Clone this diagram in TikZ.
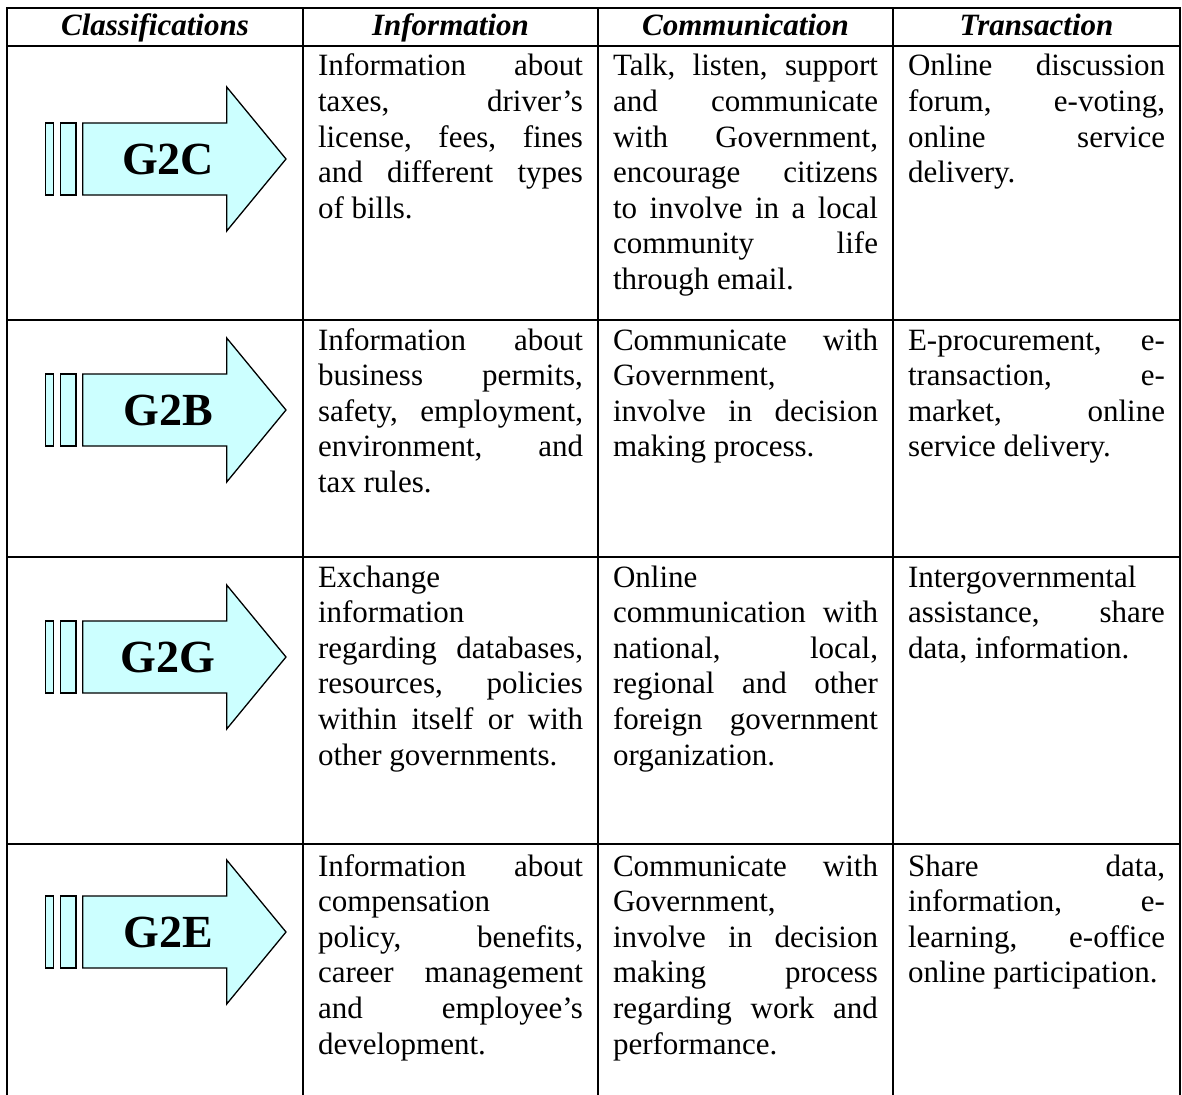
\documentclass[tikz,border=0pt]{standalone}
\usepackage{fontspec}
\setmainfont{Liberation Serif}
\definecolor{arrowfill}{HTML}{CCFFFF}
% a justified line (words spread with \hfill) and a plain last line
\newcommand\jline[1]{\hbox to\hsize{#1}}
\newcommand\lline[1]{\hbox{#1}}
\newcommand\cellbox[2]{\vtop{\hsize=#1\relax #2}}
% classification arrow: #1 centre y, #2 node name, #3 label
\newcommand\govarrow[3]{%
  \begin{scope}[shift={(0,#1)}]
    \draw[arrowshape] (45.7,-36) rectangle (53.3,36);
    \draw[arrowshape] (60.7,-36) rectangle (76,36);
    \draw[arrowshape] (82.7,-36) -- (226.7,-36) -- (226.7,-72) -- (286,0)
      -- (226.7,72) -- (226.7,36) -- (82.7,36) -- cycle;
    \node[tag] (#2) at (168,15.2) {#3};
  \end{scope}}
\begin{document}
\begin{tikzpicture}[x=1pt,y=-1pt,
  grid/.style={line width=1.9pt, line cap=rect},
  arrowshape/.style={draw=black, line width=1.3pt, fill=arrowfill, line join=miter},
  cell/.style={inner sep=0pt, outer sep=0pt, anchor=base west,
    font=\fontsize{31}{35.6}\selectfont},
  headtext/.style={inner sep=0pt, anchor=base,
    font=\fontsize{31}{35.6}\selectfont\bfseries\itshape},
  tag/.style={inner sep=0pt, anchor=base, font=\fontsize{46}{50}\selectfont\bfseries}]
\useasboundingbox (0,0) rectangle (1182,1094);
\fill[white] (0,0) rectangle (1182,1094);

% table rules
\foreach \yy in {8,46,320,557,844} \draw[grid] (7,\yy) -- (1180,\yy);
\foreach \xx in {7,303,598,893,1180} \draw[grid] (\xx,8) -- (\xx,1094);

% header
\node[headtext] (h1) at (155,36) {Classifications};
\node[headtext] (h2) at (450.5,36) {Information};
\node[headtext] (h3) at (745.5,36) {Communication};
\node[headtext] (h4) at (1036.5,36) {Transaction};

% arrows
\govarrow{159}{g2c}{G2C}
\govarrow{410}{g2b}{G2B}
\govarrow{657}{g2g}{G2G}
\govarrow{932}{g2e}{G2E}

% row G2C
\node[cell] (c1i) at (318,76) {\cellbox{265pt}{%
  \jline{Information\hfill about}
  \jline{taxes,\hfill driver’s}
  \jline{license,\hfill fees,\hfill fines}
  \jline{and\hfill different\hfill types}
  \lline{of bills.}}};
\node[cell] (c1c) at (613,76) {\cellbox{265pt}{%
  \jline{Talk,\hfill listen,\hfill support}
  \jline{and\hfill communicate}
  \jline{with\hfill Government,}
  \jline{encourage\hfill citizens}
  \jline{to\hfill involve\hfill in\hfill a\hfill local}
  \jline{community\hfill life}
  \lline{through email.}}};
\node[cell] (c1t) at (908,76) {\cellbox{257pt}{%
  \jline{Online\hfill discussion}
  \jline{forum,\hfill e-voting,}
  \jline{online\hfill service}
  \lline{delivery.}}};

% row G2B
\node[cell] (c2i) at (318,350) {\cellbox{265pt}{%
  \jline{Information\hfill about}
  \jline{business\hfill permits,}
  \jline{safety,\hfill employment,}
  \jline{environment,\hfill and}
  \lline{tax rules.}}};
\node[cell] (c2c) at (613,350) {\cellbox{265pt}{%
  \jline{Communicate\hfill with}
  \lline{Government,}
  \jline{involve\hfill in\hfill decision}
  \lline{making process.}}};
\node[cell] (c2t) at (908,350) {\cellbox{257pt}{%
  \jline{E-procurement,\hfill e-}
  \jline{transaction,\hfill e-}
  \jline{market,\hfill online}
  \lline{service delivery.}}};

% row G2G
\node[cell] (c3i) at (318,587) {\cellbox{265pt}{%
  \lline{Exchange}
  \lline{information}
  \jline{regarding\hfill databases,}
  \jline{resources,\hfill policies}
  \jline{within\hfill itself\hfill or\hfill with}
  \lline{other governments.}}};
\node[cell] (c3c) at (613,587) {\cellbox{265pt}{%
  \lline{Online}
  \jline{communication\hfill with}
  \jline{national,\hfill local,}
  \jline{regional\hfill and\hfill other}
  \jline{foreign\hfill government}
  \lline{organization.}}};
\node[cell] (c3t) at (908,587) {\cellbox{257pt}{%
  \lline{Intergovernmental}
  \jline{assistance,\hfill share}
  \lline{data, information.}}};

% row G2E
\node[cell] (c4i) at (318,876) {\cellbox{265pt}{%
  \jline{Information\hfill about}
  \lline{compensation}
  \jline{policy,\hfill benefits,}
  \jline{career\hfill management}
  \jline{and\hfill employee’s}
  \lline{development.}}};
\node[cell] (c4c) at (613,876) {\cellbox{265pt}{%
  \jline{Communicate\hfill with}
  \lline{Government,}
  \jline{involve\hfill in\hfill decision}
  \jline{making\hfill process}
  \jline{regarding\hfill work\hfill and}
  \lline{performance.}}};
\node[cell] (c4t) at (908,876) {\cellbox{257pt}{%
  \jline{Share\hfill data,}
  \jline{information,\hfill e-}
  \jline{learning,\hfill e-office}
  \lline{online participation.}}};
\end{tikzpicture}
\end{document}
